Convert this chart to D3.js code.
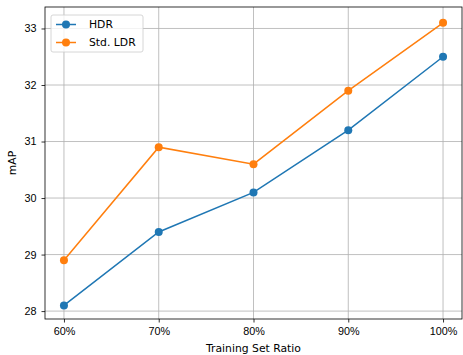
<!DOCTYPE html>
<html>
<head>
<meta charset="utf-8">
<script src="https://cdn.jsdelivr.net/npm/d3@7"></script>
<style>
  body { margin: 0; background: #fff; }
  svg { font-family: "DejaVu Sans", sans-serif; }
</style>
</head>
<body>
<div id="chart"></div>
<script>
const categories = ["60%", "70%", "80%", "90%", "100%"];
const hdrValues = [28.1, 29.4, 30.1, 31.2, 32.5];
const ldrValues = [28.9, 30.9, 30.6, 31.9, 33.1];
const yTicks = [28, 29, 30, 31, 32, 33];
const seriesNames = ["HDR", "Std. LDR"];

const width = 463;
const height = 355;
const margin = { top: 7, right: 1, bottom: 36, left: 45 };
const colors = ["#1f77b4", "#ff7f0e"];
const fontSize = "10.8px";

const svg = d3.select("#chart")
  .append("svg")
  .attr("width", width)
  .attr("height", height);

const x = d3.scaleLinear()
  .domain([-0.2, categories.length - 0.8])
  .range([margin.left, width - margin.right]);

const y = d3.scaleLinear()
  .domain([27.86, 33.38])
  .range([height - margin.bottom, margin.top]);

// grid
svg.append("g")
  .selectAll("line")
  .data(categories)
  .enter()
  .append("line")
  .attr("x1", (d, i) => x(i))
  .attr("x2", (d, i) => x(i))
  .attr("y1", margin.top)
  .attr("y2", height - margin.bottom)
  .attr("stroke", "#b0b0b0")
  .attr("stroke-width", 0.8);

svg.append("g")
  .selectAll("line")
  .data(yTicks)
  .enter()
  .append("line")
  .attr("x1", margin.left)
  .attr("x2", width - margin.right)
  .attr("y1", d => y(d))
  .attr("y2", d => y(d))
  .attr("stroke", "#b0b0b0")
  .attr("stroke-width", 0.8);

// axes
const xAxis = svg.append("g")
  .attr("transform", `translate(0, ${height - margin.bottom})`)
  .call(d3.axisBottom(x)
    .tickValues(d3.range(categories.length))
    .tickFormat(i => categories[i])
    .tickSize(3.5)
    .tickPadding(5));

const yAxis = svg.append("g")
  .attr("transform", `translate(${margin.left}, 0)`)
  .call(d3.axisLeft(y)
    .tickValues(yTicks)
    .tickFormat(d3.format("d"))
    .tickSize(3.5)
    .tickPadding(5));

[xAxis, yAxis].forEach(a => {
  a.select(".domain").remove();
  a.selectAll(".tick line").attr("stroke", "#000").attr("stroke-width", 0.8);
  a.selectAll(".tick text").attr("fill", "#000").style("font-size", fontSize);
});

// frame
svg.append("rect")
  .attr("x", margin.left)
  .attr("y", margin.top)
  .attr("width", width - margin.left - margin.right)
  .attr("height", height - margin.top - margin.bottom)
  .attr("fill", "none")
  .attr("stroke", "#000")
  .attr("stroke-width", 0.8);

// lines
const line = d3.line()
  .x((d, i) => x(i))
  .y(d => y(d));

[hdrValues, ldrValues].forEach((values, k) => {
  svg.append("path")
    .datum(values)
    .attr("d", line)
    .attr("fill", "none")
    .attr("stroke", colors[k])
    .attr("stroke-width", 1.5);

  svg.append("g")
    .selectAll("circle")
    .data(values)
    .enter()
    .append("circle")
    .attr("cx", (d, i) => x(i))
    .attr("cy", d => y(d))
    .attr("r", 4)
    .attr("fill", colors[k]);
});

// labels
svg.append("text")
  .attr("x", (margin.left + width - margin.right) / 2)
  .attr("y", 352)
  .attr("text-anchor", "middle")
  .style("font-size", fontSize)
  .text("Training Set Ratio");

svg.append("text")
  .attr("transform", `translate(16, ${(margin.top + height - margin.bottom) / 2}) rotate(-90)`)
  .attr("text-anchor", "middle")
  .style("font-size", fontSize)
  .text("mAP");

// legend
const legend = svg.append("g")
  .attr("transform", "translate(51, 15)");

legend.append("rect")
  .attr("width", 92)
  .attr("height", 37)
  .attr("rx", 2)
  .attr("fill", "#fff")
  .attr("fill-opacity", 0.8)
  .attr("stroke", "#ccc")
  .attr("stroke-width", 0.8);

seriesNames.forEach((name, k) => {
  const g = legend.append("g")
    .attr("transform", `translate(0, ${9.5 + k * 18})`);
  g.append("line")
    .attr("x1", 5)
    .attr("x2", 25)
    .attr("stroke", colors[k])
    .attr("stroke-width", 1.5);
  g.append("circle")
    .attr("cx", 15)
    .attr("r", 4)
    .attr("fill", colors[k]);
  g.append("text")
    .attr("x", 38)
    .attr("dy", "0.35em")
    .style("font-size", fontSize)
    .text(name);
});
</script>
</body>
</html>
